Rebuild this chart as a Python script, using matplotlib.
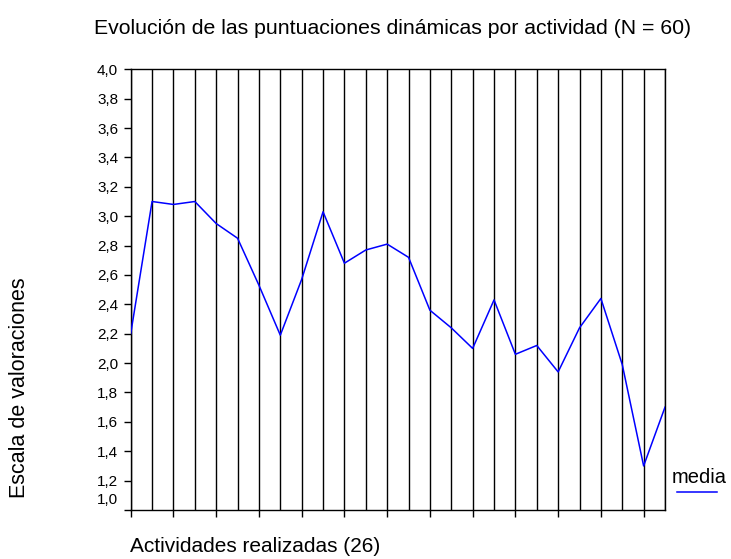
import matplotlib
matplotlib.use("Agg")
import matplotlib.pyplot as plt
from matplotlib.lines import Line2D
from matplotlib.transforms import ScaledTranslation

plt.rcParams['font.family'] = ['Liberation Sans', 'DejaVu Sans']

actividades = list(range(1, 27))
media = [2.20, 3.10, 3.08, 3.10, 2.95, 2.85, 2.53, 2.19, 2.57, 3.03, 2.68, 2.77, 2.81,
         2.72, 2.36, 2.24, 2.10, 2.43, 2.06, 2.12, 1.94, 2.24, 2.44, 1.99, 1.30, 1.70]
yticks = [1.0, 1.2, 1.4, 1.6, 1.8, 2.0, 2.2, 2.4, 2.6, 2.8, 3.0, 3.2, 3.4, 3.6, 3.8, 4.0]
ytick_labels = [f"{v:.1f}".replace('.', ',') for v in yticks]

title = "Evolución de las puntuaciones dinámicas por actividad (N = 60)"
ylabel = "Escala de valoraciones"
xlabel = "Actividades realizadas (26)"
legend_label = "media"

W, H = 731, 559
fig = plt.figure(figsize=(W / 100, H / 100), dpi=100)
ax = fig.add_axes([130.7 / W, 1 - 510 / H, (665 - 130.7) / W, (510 - 69.3) / H])

for a in actividades:
    ax.axvline(a, color='black', lw=1.0, zorder=1)
ax.plot(actividades, media, color='#0000ff', lw=1.1, zorder=3)

ax.set_xlim(actividades[0], actividades[-1])
ax.set_ylim(1.0, 4.0)
ax.set_yticks(yticks)
ax.set_yticklabels(ytick_labels, fontsize=11)
ax.set_xticks(actividades[::2])
ax.set_xticklabels([])
ax.tick_params(axis='y', direction='out', length=5, width=1, pad=4, colors='black')
ax.tick_params(axis='x', direction='out', length=5, width=1)
for s in ax.spines.values():
    s.set_color('black')
    s.set_linewidth(1.0)

# lowest label shifted up as in reference
lab = ax.get_yticklabels()[0]
lab.set_transform(lab.get_transform() + ScaledTranslation(0, 11 / 100, fig.dpi_scale_trans))

fig.text(393 / W, 1 - 33.5 / H, title, ha='center', va='baseline', fontsize=15.3)
fig.text(20 / W, 1 - 387.5 / H, ylabel, ha='center', va='center', rotation=90, fontsize=15.5)
fig.text(130 / W, 1 - 551.7 / H, xlabel, ha='left', va='baseline', fontsize=15)

fig.text(672 / W, 1 - 482.7 / H, legend_label, ha='left', va='baseline', fontsize=14.5)
fig.add_artist(Line2D([677 / W, 717 / W], [1 - 492 / H, 1 - 492 / H],
                      transform=fig.transFigure, color='#0000ff', lw=1.1))

fig.savefig("out.png", dpi=100)
